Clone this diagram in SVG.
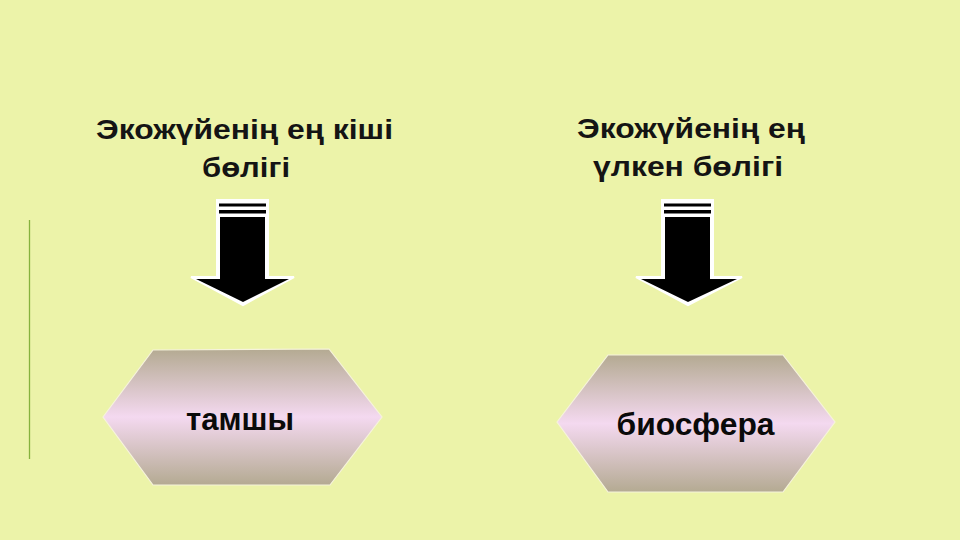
<svg xmlns="http://www.w3.org/2000/svg" width="960" height="540" viewBox="0 0 960 540">
<defs>
<linearGradient id="hexg" x1="0" y1="0" x2="0" y2="1">
<stop offset="0" stop-color="#b4aa92"/>
<stop offset="0.5" stop-color="#f4d9f0"/>
<stop offset="1" stop-color="#b4aa92"/>
</linearGradient>
<style>
.t{font-family:"Liberation Sans",Arial,sans-serif;font-weight:bold;font-size:28px;fill:#141414;text-anchor:middle}
.h{font-size:31px;fill:#0a0a0a}
.hex{fill:url(#hexg);stroke:#f6f3dc;stroke-width:1.2}
.aw{fill:#ffffff;stroke:#ffffff;stroke-width:2;stroke-linejoin:miter}
.ab{fill:#000000}
</style>
</defs>
<rect width="960" height="540" fill="#ecf3a9"/>
<line x1="29.5" y1="220" x2="29.5" y2="459" stroke="#86b23c" stroke-width="1.3"/>

<g id="label-left">
<text class="t" x="244.5" y="139" textLength="297" lengthAdjust="spacingAndGlyphs">Экожүйенің ең кіші</text>
<text class="t" x="246" y="177" textLength="88" lengthAdjust="spacingAndGlyphs">бөлігі</text>
</g>
<g id="label-right">
<text class="t" x="691" y="138" textLength="228" lengthAdjust="spacingAndGlyphs">Экожүйенің ең</text>
<text class="t" x="688" y="176" textLength="190" lengthAdjust="spacingAndGlyphs">үлкен бөлігі</text>
</g>

<g id="connectors">
<g id="arrow-left">
<polygon class="aw" points="217,200 268,200 268,277 294,277 243,305 191,277 217,277"/>
<rect class="ab" x="219" y="203.5" width="47" height="3"/>
<rect class="ab" x="219" y="210" width="47" height="3.5"/>
<polygon class="ab" points="220,217 265,217 265,279 289,279 243,302 196,279 220,279"/>
</g>
<g id="arrow-right">
<polygon class="aw" points="662,200 713,200 713,277 742,277 688,305 636,277 662,277"/>
<rect class="ab" x="664" y="203.5" width="47" height="3"/>
<rect class="ab" x="664" y="210" width="47" height="3.5"/>
<polygon class="ab" points="665,217 710,217 710,279 737,279 688,302 641,279 665,279"/>
</g>
</g>

<g id="node-tamshy">
<polygon class="hex" points="103,417 153,350 329,349 382,417 330,485 153,485"/>
<text class="t h" x="240" y="430" textLength="108" lengthAdjust="spacingAndGlyphs">тамшы</text>
</g>
<g id="node-biosfera">
<polygon class="hex" points="557,422 608,355 783,355 835,422 783,492 608,492"/>
<text class="t h" x="695.5" y="435" textLength="158" lengthAdjust="spacingAndGlyphs">биосфера</text>
</g>
</svg>
